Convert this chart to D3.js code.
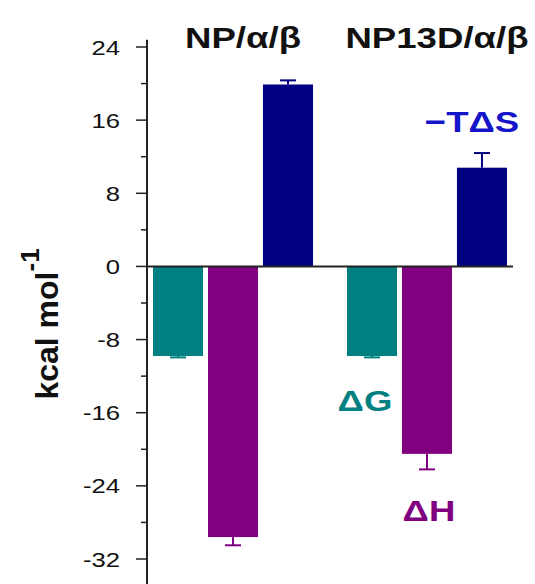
<!DOCTYPE html>
<html>
<head>
<meta charset="utf-8">
<script src="https://cdn.jsdelivr.net/npm/d3@7"></script>
<style>
  html, body { margin: 0; padding: 0; background: #fff; }
  svg { display: block; }
  text { font-family: "Liberation Sans", Arial, sans-serif; }
</style>
</head>
<body>
<div id="chart"></div>
<script>
// ---- data ----
const groups = ["NP/α/β", "NP13D/α/β"];
const seriesNames = ["ΔG", "ΔH", "−TΔS"];
const seriesColors = ["#008080", "#800080", "#000080"];
const dG = [-9.8, -9.8];
const dGErr = [0.15, 0.15];
const dH = [-29.6, -20.5];
const dHErr = [0.9, 1.7];
const mTdS = [19.9, 10.8];
const mTdSErr = [0.45, 1.6];
const yTicks = [-32, -24, -16, -8, 0, 8, 16, 24];
const yMinorTicks = [-36, -28, -20, -12, -4, 4, 12, 20];
const yLabel = "kcal mol";
const yLabelSup = "-1";
// series labels: text, series index, group index, value anchor
const seriesLabels = [
  { text: "ΔG", s: 0, g: 1, v: -14.6, color: "#008080" },
  { text: "ΔH", s: 1, g: 1, v: -26.6, color: "#800080" },
  { text: "−TΔS", s: 2, g: 1, v: 15.9, color: "#1414c8" }
];

const values = [dG, dH, mTdS];
const errors = [dGErr, dHErr, mTdSErr];
const rows = [];
groups.forEach((g, gi) => {
  seriesNames.forEach((s, si) => {
    rows.push({ group: g, series: s, si, gi, value: values[si][gi], err: errors[si][gi] });
  });
});

// ---- layout ----
const W = 535, H = 584;
const SX = 1.22; // horizontal text stretch of the original figure
const labelDx = [-7, 2, -10];
const titleDx = 10;

const svg = d3.select("#chart").append("svg").attr("width", W).attr("height", H);

const x0 = d3.scaleBand().domain(groups).range([147, 513]).paddingInner(0.175).paddingOuter(0.031);
const x1 = d3.scaleBand().domain(seriesNames).range([0, x0.bandwidth()]).paddingInner(0.09).paddingOuter(0);
const y = d3.scaleLinear().domain([-32, 24]).range([559, 47]);

function stretchedText(sel, x, yy) {
  return sel.attr("transform", `translate(${x},${yy}) scale(${SX},1)`);
}

// bars
svg.append("g").selectAll("rect").data(rows).join("rect")
  .attr("x", d => x0(d.group) + x1(d.series))
  .attr("width", x1.bandwidth())
  .attr("y", d => y(Math.max(0, d.value)))
  .attr("height", d => Math.abs(y(d.value) - y(0)))
  .attr("fill", d => seriesColors[d.si]);

// error bars (away from zero)
const eb = svg.append("g").selectAll("g").data(rows).join("g")
  .attr("stroke", d => seriesColors[d.si]).attr("stroke-width", 2).attr("fill", "none");
eb.append("line")
  .attr("x1", d => x0(d.group) + x1(d.series) + x1.bandwidth() / 2)
  .attr("x2", d => x0(d.group) + x1(d.series) + x1.bandwidth() / 2)
  .attr("y1", d => y(d.value))
  .attr("y2", d => y(d.value + Math.sign(d.value) * d.err));
eb.append("line")
  .attr("x1", d => x0(d.group) + x1(d.series) + x1.bandwidth() / 2 - 8)
  .attr("x2", d => x0(d.group) + x1(d.series) + x1.bandwidth() / 2 + 8)
  .attr("y1", d => y(d.value + Math.sign(d.value) * d.err))
  .attr("y2", d => y(d.value + Math.sign(d.value) * d.err));

// zero line
svg.append("line")
  .attr("x1", 147).attr("x2", 513)
  .attr("y1", y(0)).attr("y2", y(0))
  .attr("stroke", "#222").attr("stroke-width", 2);

// y axis
const axisG = svg.append("g").attr("transform", "translate(147,0)");
axisG.append("line").attr("x1", 0).attr("x2", 0)
  .attr("y1", y(24.8)).attr("y2", H).attr("stroke", "#222").attr("stroke-width", 2);
axisG.selectAll("line.major").data(yTicks).join("line").attr("class", "major")
  .attr("x1", -11).attr("x2", 0).attr("y1", d => y(d)).attr("y2", d => y(d))
  .attr("stroke", "#222").attr("stroke-width", 1.5);
axisG.selectAll("line.minor").data(yMinorTicks.filter(v => y(v) < H)).join("line").attr("class", "minor")
  .attr("x1", -6).attr("x2", 0).attr("y1", d => y(d)).attr("y2", d => y(d))
  .attr("stroke", "#222").attr("stroke-width", 1.5);
axisG.selectAll("text").data(yTicks).join("text")
  .each(function (d) { stretchedText(d3.select(this), -27, y(d) + 7.5); })
  .attr("text-anchor", "end")
  .attr("font-size", 21).attr("fill", "#111")
  .text(d => String(d));

// y label
const yl = svg.append("text")
  .attr("transform", "translate(58,324) rotate(-90)")
  .attr("text-anchor", "middle")
  .attr("font-size", 32).attr("font-weight", "bold").attr("fill", "#111");
yl.append("tspan").text(yLabel);
yl.append("tspan").attr("dy", -19).attr("font-size", 26).text(yLabelSup);

// group titles
svg.selectAll("text.title").data(groups).join("text").attr("class", "title")
  .each(function (d) { stretchedText(d3.select(this), x0(d) + x0.bandwidth() / 2 + titleDx, 48); })
  .attr("text-anchor", "middle")
  .attr("font-size", 30).attr("font-weight", "bold").attr("fill", "#111")
  .text(d => d);

// series labels
svg.selectAll("text.slabel").data(seriesLabels).join("text").attr("class", "slabel")
  .each(function (d, i) {
    const cx = x0(groups[d.g]) + x1(seriesNames[d.s]) + x1.bandwidth() / 2 + labelDx[i];
    stretchedText(d3.select(this), cx, y(d.v) + 11);
  })
  .attr("text-anchor", "middle")
  .attr("font-size", 30).attr("font-weight", "bold")
  .attr("fill", d => d.color)
  .text(d => d.text);
</script>
</body>
</html>
